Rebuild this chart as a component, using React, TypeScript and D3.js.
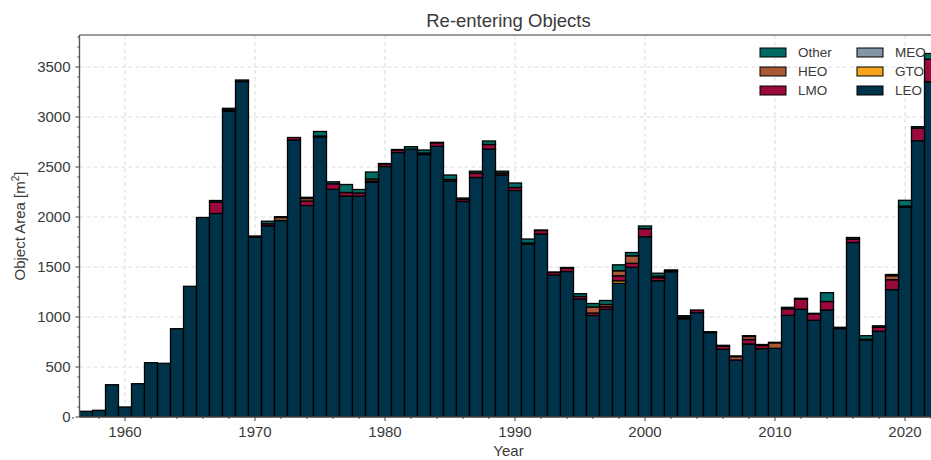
import React from "react";
import * as d3 from "d3";

const years = [
  1957, 1958, 1959, 1960, 1961, 1962, 1963, 1964, 1965, 1966,
  1967, 1968, 1969, 1970, 1971, 1972, 1973, 1974, 1975, 1976,
  1977, 1978, 1979, 1980, 1981, 1982, 1983, 1984, 1985, 1986,
  1987, 1988, 1989, 1990, 1991, 1992, 1993, 1994, 1995, 1996,
  1997, 1998, 1999, 2000, 2001, 2002, 2003, 2004, 2005, 2006,
  2007, 2008, 2009, 2010, 2011, 2012, 2013, 2014, 2015, 2016,
  2017, 2018, 2019, 2020, 2021, 2022,
];

const LEO = [
  57, 67, 323, 100, 333, 543, 537, 883, 1307, 1995,
  2035, 3060, 3355, 1800, 1913, 1965, 2770, 2115, 2800, 2277,
  2210, 2210, 2350, 2505, 2645, 2678, 2625, 2707, 2360, 2155,
  2395, 2680, 2420, 2265, 1730, 1830, 1420, 1455, 1180, 1015,
  1078, 1337, 1497, 1803, 1363, 1453, 983, 1045, 843, 677,
  570, 730, 683, 687, 1017, 1077, 967, 1070, 885, 1745,
  770, 857, 1273, 2097, 2763, 3353,
];

const GTO = [
  0, 0, 0, 0, 0, 0, 0, 0, 0, 0,
  0, 0, 0, 0, 0, 0, 0, 0, 0, 0,
  0, 0, 0, 0, 0, 0, 0, 0, 0, 0,
  0, 0, 0, 0, 0, 0, 0, 0, 0, 0,
  0, 25, 0, 0, 0, 0, 0, 0, 0, 0,
  0, 0, 0, 0, 0, 0, 0, 0, 0, 0,
  0, 0, 0, 0, 0, 0,
];

const MEO = [
  0, 0, 0, 0, 0, 0, 0, 0, 0, 0,
  0, 0, 0, 0, 0, 0, 0, 0, 0, 0,
  0, 0, 0, 0, 0, 0, 0, 0, 0, 0,
  0, 0, 0, 0, 0, 0, 0, 0, 0, 0,
  0, 0, 0, 0, 0, 0, 0, 0, 0, 0,
  0, 0, 0, 0, 0, 0, 0, 0, 0, 0,
  0, 0, 0, 0, 0, 0,
];

const LMO = [
  0, 0, 0, 0, 0, 0, 0, 0, 0, 0,
  115, 12, 0, 10, 20, 0, 25, 45, 10, 55,
  35, 30, 10, 25, 25, 0, 15, 35, 0, 20,
  45, 45, 20, 30, 10, 35, 25, 35, 25, 25,
  25, 50, 40, 80, 30, 10, 15, 25, 0, 30,
  0, 45, 32, 0, 65, 100, 65, 85, 0, 35,
  8, 40, 100, 12, 125, 225,
];

const HEO = [
  0, 0, 0, 0, 0, 0, 0, 0, 0, 0,
  0, 0, 0, 0, 0, 30, 0, 25, 0, 0,
  0, 0, 20, 0, 0, 0, 0, 0, 15, 0,
  0, 0, 0, 0, 0, 0, 0, 0, 0, 60,
  22, 50, 75, 0, 15, 0, 0, 0, 0, 0,
  33, 30, 0, 55, 0, 0, 0, 0, 0, 0,
  0, 0, 40, 0, 0, 0,
];

const Other = [
  0, 0, 0, 0, 0, 0, 0, 0, 0, 0,
  15, 15, 15, 0, 25, 8, 0, 12, 45, 20,
  80, 35, 70, 5, 5, 25, 30, 5, 45, 15,
  18, 35, 18, 45, 40, 5, 5, 5, 28, 35,
  40, 60, 33, 27, 30, 8, 15, 0, 10, 10,
  8, 8, 10, 5, 15, 10, 5, 88, 12, 15,
  35, 15, 12, 58, 15, 57,
];

const seriesKeys = ["LEO", "GTO", "MEO", "LMO", "HEO", "Other"];
const seriesValues: Record<string, number[]> = { LEO, GTO, MEO, LMO, HEO, Other };
const colors: Record<string, string> = {
  LEO: "#003249",
  GTO: "#f6a51c",
  MEO: "#8396a8",
  LMO: "#9a0a3c",
  HEO: "#a85a38",
  Other: "#006b64",
};
const legendOrder = ["Other", "HEO", "LMO", "MEO", "GTO", "LEO"];

const yMajorTicks = [0, 500, 1000, 1500, 2000, 2500, 3000, 3500];
const xMajorTicks = [1960, 1970, 1980, 1990, 2000, 2010, 2020];

const W = 931;
const H = 460;
const FONT = "'Liberation Sans', Arial, Helvetica, sans-serif";
const TXT = "#3a3a3a";

export default function App() {
  const left = 79.5;
  const right = 937.5;
  const top = 35;
  const bottom = 417;

  const x = d3.scaleLinear().domain([1956.5, 2022.5]).range([left, right]);
  const y = d3.scaleLinear().domain([0, 3820]).range([bottom, top]);

  const table = years.map((yr, i) => {
    const row: any = { year: yr };
    seriesKeys.forEach((k) => (row[k] = seriesValues[k][i]));
    return row;
  });
  const stacked = d3.stack().keys(seriesKeys)(table as any);

  const yMinor = d3.range(0, 3820, 100).filter((v) => v % 500 !== 0);
  const xMinor = d3.range(1956, 2023, 2).filter((v) => v % 10 !== 0);

  const legendRows = 3;
  const legendX = [760, 857];
  const legendY = [48, 67, 86];

  return (
    <div style={{ position: "absolute", left: 0, top: 0, width: W, height: H }}>
      <svg width={W} height={H} style={{ display: "block", background: "#fff" }}>
        <defs>
          <clipPath id="plotclip">
            <rect x={left} y={top} width={right - left} height={bottom - top} />
          </clipPath>
        </defs>
        <g stroke="#dcdcdc" strokeWidth={1} strokeDasharray="4,3">
          {yMajorTicks.map((t) => (
            <line key={"gy" + t} x1={left} x2={right} y1={y(t)} y2={y(t)} />
          ))}
          {xMajorTicks.map((t) => (
            <line key={"gx" + t} x1={x(t)} x2={x(t)} y1={top} y2={bottom} />
          ))}
        </g>
        <g clipPath="url(#plotclip)">
          {stacked.map((s: any) => (
            <g key={s.key} fill={colors[s.key]} stroke="#000" strokeWidth={1.3}>
              {s.map((d: any, i: number) => {
                if (d[1] - d[0] <= 0) return null;
                return (
                  <rect
                    key={i}
                    x={x(years[i] - 0.5)}
                    width={x(years[i] + 0.5) - x(years[i] - 0.5)}
                    y={y(d[1])}
                    height={y(d[0]) - y(d[1])}
                  />
                );
              })}
            </g>
          ))}
        </g>
        <line x1={left} x2={right} y1={top} y2={top} stroke="#7a7a7a" strokeWidth={1.6} />
        <line x1={left} x2={left} y1={top} y2={bottom} stroke="#555" strokeWidth={1.4} />
        <line x1={left} x2={right} y1={bottom} y2={bottom} stroke="#444" strokeWidth={1.4} />
        <g stroke="#444" strokeWidth={1}>
          {yMajorTicks.map((t) => (
            <line key={"yt" + t} x1={left - 4} x2={left} y1={y(t)} y2={y(t)} />
          ))}
          {yMinor.map((t) => (
            <line key={"ym" + t} x1={left - 2} x2={left} y1={y(t)} y2={y(t)} />
          ))}
          {xMajorTicks.map((t) => (
            <line key={"xt" + t} x1={x(t)} x2={x(t)} y1={bottom} y2={bottom + 4} />
          ))}
          {xMinor.map((t) => (
            <line key={"xm" + t} x1={x(t)} x2={x(t)} y1={bottom} y2={bottom + 2} />
          ))}
        </g>
        <g fontFamily={FONT} fontSize={15} fill={TXT}>
          {yMajorTicks.map((t) => (
            <text key={"yl" + t} x={left - 9} y={y(t)} dy="0.35em" textAnchor="end">
              {t}
            </text>
          ))}
          {xMajorTicks.map((t) => (
            <text key={"xl" + t} x={x(t)} y={437} textAnchor="middle">
              {t}
            </text>
          ))}
        </g>
        <text x={(left + right) / 2} y={456} textAnchor="middle" fontFamily={FONT} fontSize={15} fill={TXT}>
          Year
        </text>
        <text
          transform={`translate(25,${(top + bottom) / 2}) rotate(-90)`}
          textAnchor="middle"
          fontFamily={FONT}
          fontSize={15}
          fill={TXT}
        >
          Object Area [m<tspan dy="-6" fontSize={10}>2</tspan>
          <tspan dy="6">]</tspan>
        </text>
        <text x={(left + right) / 2} y={26.5} textAnchor="middle" fontFamily={FONT} fontSize={18.5} fill={TXT}>
          Re-entering Objects
        </text>
        <g fontFamily={FONT} fontSize={13.5} fill={TXT}>
          {legendOrder.map((k, i) => {
            const col = Math.floor(i / legendRows);
            const row = i % legendRows;
            const lx = legendX[col];
            const ly = legendY[row];
            return (
              <g key={"lg" + k}>
                <rect x={lx} y={ly} width={26} height={9} fill={colors[k]} stroke="#000" strokeWidth={1} />
                <text x={lx + 38} y={ly + 4.5} dy="0.35em">
                  {k}
                </text>
              </g>
            );
          })}
        </g>
      </svg>
    </div>
  );
}
